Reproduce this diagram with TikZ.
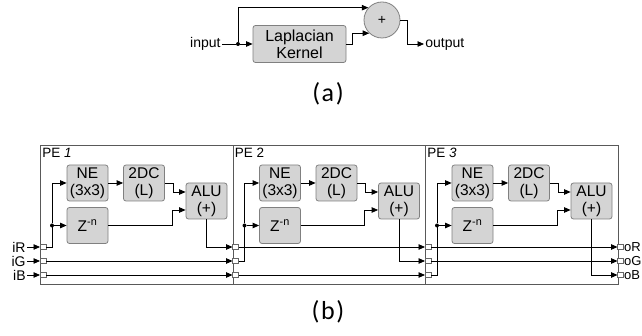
\documentclass[tikz,border=0pt]{standalone}
\usepackage{fontspec}
\setmainfont{Liberation Sans}
\newfontfamily\capfont[LetterSpace=6]{Carlito}
\usepackage{tikz}
\usetikzlibrary{arrows.meta}
\tikzset{blk/.style={draw=black!50, fill=black!17, rounded corners=2.5pt, minimum width=41pt, minimum height=36pt, inner sep=0pt, align=center, font=\fontsize{15.5}{17}\selectfont}}
\tikzset{port/.style={draw=black!60, fill=white, minimum width=6pt, minimum height=5pt, inner sep=0pt, outer sep=0pt}}
\tikzset{dot/.style={circle, fill=black, minimum size=4pt, inner sep=0pt, outer sep=0pt}}
\tikzset{pe/.style={draw=black!65, minimum width=192.5pt, minimum height=139pt, inner sep=0pt, anchor=north west}}

\begin{document}
\begin{tikzpicture}[x=1pt, y=-1pt, line width=0.8pt, >={Triangle[length=6.5pt,width=5.5pt]}]
  \useasboundingbox (0,0) rectangle (642,336);

  % (a)
  \node[anchor=east, inner sep=1pt, font=\fontsize{14}{16}\selectfont] (in) at (222,44) {input};
  \node[dot] (j) at (238,44) {};
  \node[blk, minimum width=93pt, minimum height=37pt, font=\fontsize{16}{17}\selectfont] (lap) at (299.5,44) {Laplacian\\Kernel};
  \node[circle, draw=black!50, fill=black!17, minimum size=36pt, inner sep=0pt, font=\fontsize{14}{14}\selectfont] (sum) at (382,20) {+};
  \node[anchor=west, inner sep=1pt, font=\fontsize{14}{16}\selectfont] (out) at (424,44) {output};

  \draw (in) -- (j);
  \draw[->] (j) -- (lap);
  \draw[->] (j) |- (sum.138);
  \draw[->] (lap.east) -- ++(6,0) |- (sum.226);
  \draw[->] (sum.east) -- ++(7,0) |- (out);

  \node[font=\capfont\fontsize{26}{26}\selectfont] (capa) at (328,94) {(a)};

  % (b)
  \foreach \i/\x/\n in {1/40/\textit{1}, 2/232.5/2, 3/425/\textit{3}} {
    \node[pe] (pe\i) at (\x,145) {};
    \node[anchor=base west, inner sep=0pt, font=\fontsize{13.5}{13.5}\selectfont] (lbl\i) at (\x+2,158) {PE \n};
    \node[blk] (ne\i) at (\x+47.5,183) {NE\\(3x3)};
    \node[blk] (dc\i) at (\x+104,183) {2DC\\(L)};
    \node[blk] (alu\i) at (\x+166.5,201) {ALU\\(+)};
    \node[blk] (z\i) at (\x+47.5,225.5) {Z\textsuperscript{-n}};
    \node[dot] (d\i) at (\x+12,225.5) {};
    \foreach \k/\y in {1/247, 2/261, 3/275}
      \node[port, anchor=west] (p\i\k) at (\x,\y) {};
  }
  \foreach \k/\c/\y in {1/R/247, 2/G/261, 3/B/275} {
    \node[port, anchor=west] (p4\k) at (617.5,\y) {};
    \node[anchor=east, inner sep=1pt, font=\fontsize{14}{14}\selectfont] (i\c) at (27,\y) {i\c};
    \node[anchor=west, inner sep=0.3pt, font=\fontsize{13}{13}\selectfont] (o\c) at (p4\k.east) {o\c};
    \draw[->] (i\c) -- (p1\k);
  }

  \foreach \i in {1,2,3} {
    \pgfmathtruncatemacro\j{\i+1}
    \coordinate (a\i) at ([yshift=9pt]alu\i.west);
    \coordinate (b\i) at ([yshift=-9pt]alu\i.west);
    \draw (p\i\i.east) -| (d\i);
    \draw[->] (d\i) |- (ne\i);
    \draw[->] (d\i) -- (z\i);
    \draw[->] (ne\i) -- (dc\i);
    \draw[->] (dc\i.east) -- ++(8,0) |- (a\i);
    \draw[->] (z\i.east) -| ([xshift=-13.5pt]b\i) -- (b\i);
    \draw[->] (alu\i.south) |- (p\j\i.west);
    \foreach \k in {1,2,3} {
      \ifnum\k=\i\else \draw[->] (p\i\k.east) -- (p\j\k.west); \fi
    }
  }

  \node[font=\capfont\fontsize{26}{26}\selectfont] (capb) at (328,312) {(b)};
\end{tikzpicture}
\end{document}
